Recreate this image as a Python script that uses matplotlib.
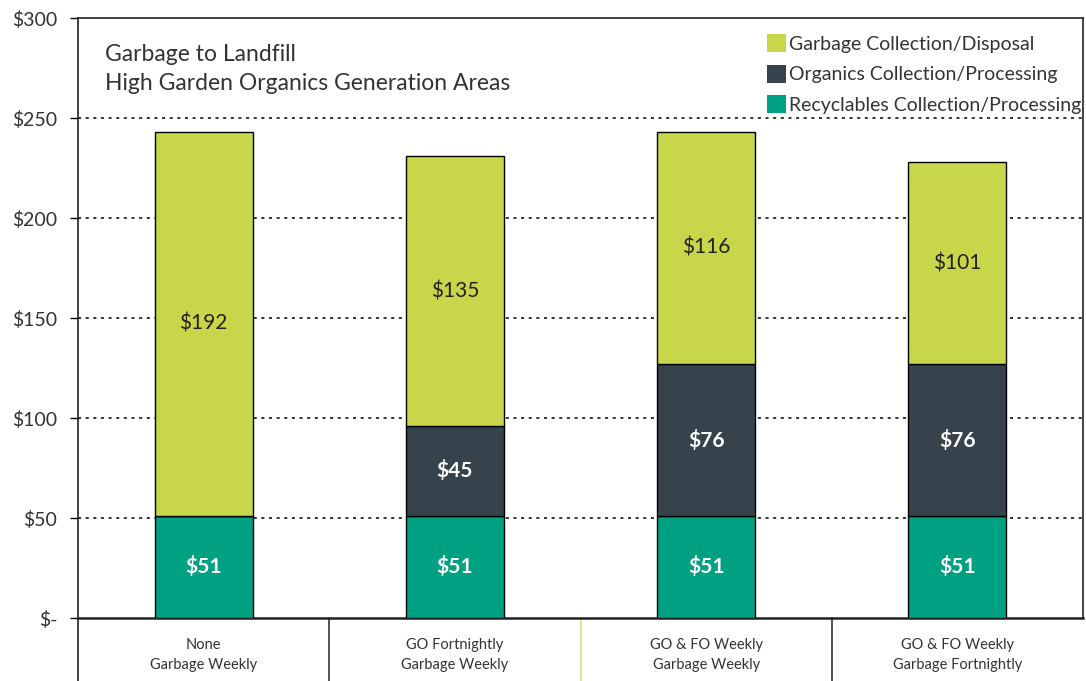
import matplotlib
matplotlib.use("Agg")
import matplotlib.pyplot as plt
from matplotlib.patches import Patch
import numpy as np

plt.rcParams['font.family'] = ['Lato', 'DejaVu Sans']

categories = ["None\nGarbage Weekly", "GO Fortnightly\nGarbage Weekly",
              "GO & FO Weekly\nGarbage Weekly", "GO & FO Weekly\nGarbage Fortnightly"]
recyclables = [51, 51, 51, 51]
organics = [0, 45, 76, 76]
garbage = [192, 135, 116, 101]
series_names = ["Garbage Collection/Disposal", "Organics Collection/Processing",
                "Recyclables Collection/Processing"]
yticks = [0, 50, 100, 150, 200, 250, 300]
ytick_labels = ["$-", "$50", "$100", "$150", "$200", "$250", "$300"]

c_garb = "#C8D64A"
c_org = "#36434C"
c_rec = "#00A083"
txt = "#333333"

fig = plt.figure(figsize=(10.86, 6.81), dpi=100)
ax = fig.add_axes([78/1086, 63/681, (1083-78)/1086, (618-18)/681])

x = np.arange(len(categories))
w = 0.39
rec = np.array(recyclables); org = np.array(organics); gar = np.array(garbage)
ax.bar(x, rec, w, color=c_rec, edgecolor="black", linewidth=1, zorder=3)
ax.bar(x, org, w, bottom=rec, color=c_org, edgecolor="black", linewidth=1, zorder=3)
ax.bar(x, gar, w, bottom=rec + org, color=c_garb, edgecolor="black", linewidth=1, zorder=3)

for i in range(len(x)):
    ax.text(x[i], rec[i] / 2, f"${rec[i]}", ha="center", va="center", color="white",
            fontsize=15, fontweight="bold", zorder=4)
    if org[i] > 0:
        ax.text(x[i], rec[i] + org[i] / 2, f"${org[i]}", ha="center", va="center",
                color="white", fontsize=15, fontweight="bold", zorder=4)
    ax.text(x[i], rec[i] + org[i] + gar[i] * 0.5, f"${gar[i]}", ha="center", va="center",
            color="#222222", fontsize=15, zorder=4)

ax.set_xlim(-0.5, len(x) - 0.5)
ax.set_ylim(0, 300)
ax.set_yticks(yticks)
ax.set_yticklabels(ytick_labels, fontsize=14, color=txt)
ax.tick_params(axis="y", length=6, width=1, color="black", pad=9)
ax.set_xticks([])
for yv in yticks[1:-1]:
    ax.axhline(yv, color="black", linestyle=(0, (2, 3)), linewidth=1.1, zorder=1)

for s in ax.spines.values():
    s.set_color("#222222")
    s.set_linewidth(1.2)
ax.spines["bottom"].set_linewidth(1.8)

# category table below axis
trans = ax.get_xaxis_transform()
bottom_ax = -63/600
ax.plot([-0.5, -0.5], [0, bottom_ax], transform=trans, color="#222222", lw=1.2, clip_on=False)
for i, xs in enumerate(np.arange(0.5, len(x) - 0.5, 1.0)):
    col = "#D6E08A" if i == 1 else "#333333"
    ax.plot([xs, xs], [0, bottom_ax], transform=trans, color=col, lw=1.2, clip_on=False)
for i, c in enumerate(categories):
    ax.text(x[i], -0.061, c, transform=trans, ha="center", va="center", fontsize=10.5,
            color=txt, linespacing=1.55)

ax.text(0.027, 0.957, "Garbage to Landfill\nHigh Garden Organics Generation Areas",
        transform=ax.transAxes, ha="left", va="top", fontsize=16.5, color=txt, linespacing=1.5)

handles = [Patch(facecolor=c_garb), Patch(facecolor=c_org), Patch(facecolor=c_rec)]
leg = ax.legend(handles, series_names, loc="upper right", bbox_to_anchor=(1.012, 0.996),
                frameon=False, fontsize=14, handlelength=1.0, handleheight=1.05,
                handletextpad=0.15, labelspacing=0.62, borderaxespad=0.3)
for t in leg.get_texts():
    t.set_color(txt)

fig.savefig("out.png", dpi=100)
